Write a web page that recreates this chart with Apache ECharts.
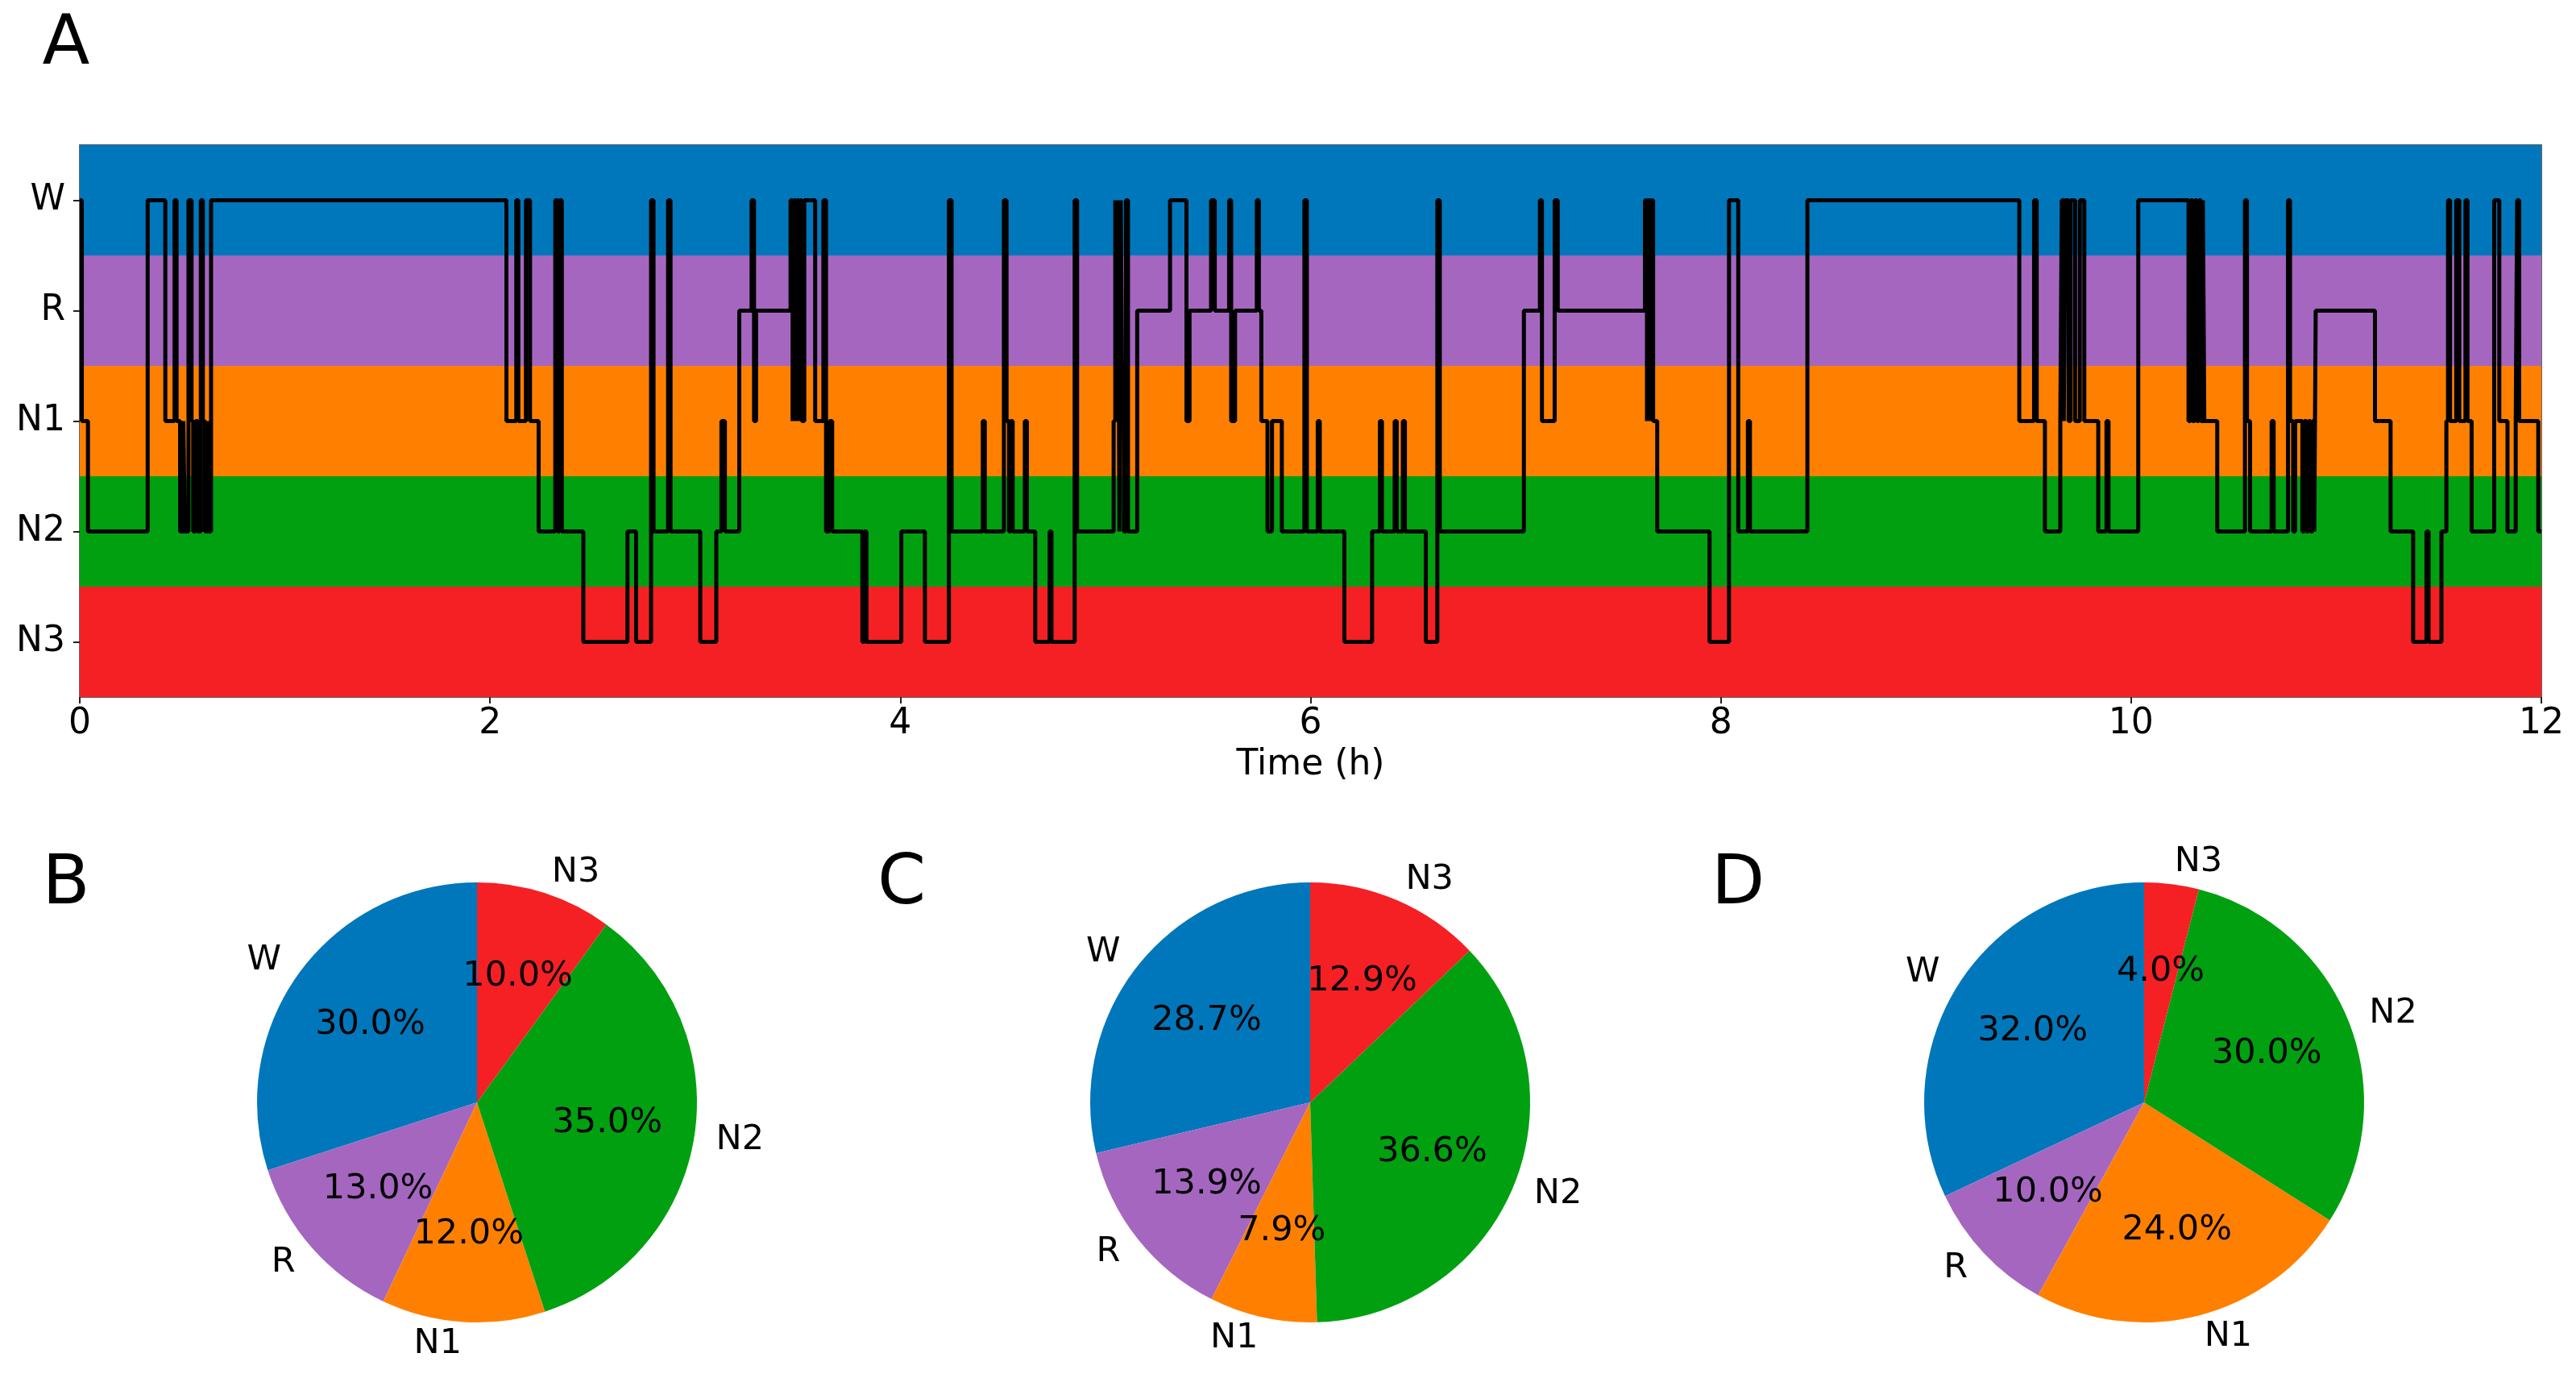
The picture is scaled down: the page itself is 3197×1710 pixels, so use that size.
<!DOCTYPE html>
<html><head><meta charset="utf-8">
<script src="https://cdn.jsdelivr.net/npm/echarts@6/dist/echarts.min.js"></script>
<style>html,body{margin:0;padding:0;background:#fff}#c{width:3197px;height:1710px}</style>
</head><body><div id="c"></div>
<script>
// ---------- data ----------
const stageLabels = ['N3', 'N2', 'N1', 'R', 'W']; // bottom -> top
const xTicks = [0, 2, 4, 6, 8, 10, 12];
const totalHours = 12;

const hypnoTimes = [
  0.000, 0.010, 0.040, 0.331, 0.417, 0.462, 0.472, 0.489, 0.505, 0.512, 0.530, 0.545, 0.553, 0.565, 0.575, 0.590, 0.600, 0.610, 0.625, 0.632, 0.640,
  2.080, 2.128, 2.138, 2.175, 2.195, 2.237, 2.318, 2.330, 2.338, 2.350, 2.455, 2.670, 2.712, 2.785, 2.797, 2.868, 2.880,
  3.025, 3.103, 3.128, 3.145, 3.215, 3.275, 3.287, 3.297, 3.465, 3.475, 3.482, 3.490, 3.497, 3.505, 3.512, 3.520, 3.532, 3.585, 3.625, 3.638, 3.655, 3.668, 3.815, 3.825, 3.835,
  4.005, 4.120, 4.237, 4.250, 4.402, 4.412, 4.505, 4.518, 4.530, 4.538, 4.548, 4.607, 4.617, 4.658, 4.728, 4.737, 4.850, 4.862,
  5.040, 5.048, 5.055, 5.062, 5.068, 5.075, 5.082, 5.090, 5.100, 5.110, 5.155, 5.315, 5.395, 5.410, 5.515, 5.533, 5.603, 5.613, 5.632, 5.738, 5.748, 5.760, 5.790, 5.812, 5.860, 5.970, 5.982,
  6.035, 6.045, 6.165, 6.300, 6.338, 6.348, 6.410, 6.420, 6.450, 6.460, 6.562, 6.618, 6.630,
  7.040, 7.118, 7.128, 7.190, 7.205, 7.630, 7.640, 7.647, 7.655, 7.662, 7.670, 7.690, 7.945,
  8.040, 8.085, 8.132, 8.142, 8.422,
  9.455, 9.527, 9.540, 9.580, 9.655, 9.662, 9.672, 9.678, 9.695, 9.705, 9.727, 9.750, 9.772, 9.840, 9.880, 9.890,
  10.035, 10.280, 10.290, 10.300, 10.310, 10.320, 10.330, 10.340, 10.350, 10.357, 10.420, 10.555, 10.565, 10.580, 10.685, 10.695, 10.765, 10.775, 10.790, 10.800,
  10.835, 10.845, 10.855, 10.865, 10.875, 10.885, 10.893, 10.900,
  11.189, 11.265, 11.375, 11.440, 11.450, 11.513, 11.537, 11.545, 11.555, 11.585, 11.600, 11.630, 11.640, 11.660, 11.770, 11.795, 11.835, 11.875, 11.882, 11.892, 11.985
];
const hypnoStages = [
  'W', 'N1', 'N2', 'W', 'N1', 'W', 'N1', 'N2', 'N1', 'N2', 'W', 'N1', 'N2', 'N1', 'N2', 'W', 'N1', 'N2', 'N1', 'N2', 'W',
  'N1', 'W', 'N1', 'W', 'N1', 'N2', 'W', 'N2', 'W', 'N2', 'N3', 'N2', 'N3', 'W', 'N2', 'W', 'N2',
  'N3', 'N2', 'N1', 'N2', 'R', 'W', 'N1', 'R', 'W', 'N1', 'W', 'N1', 'W', 'N1', 'W', 'N1', 'W', 'N1', 'W', 'N2', 'N1', 'N2', 'N3', 'N2', 'N3',
  'N2', 'N3', 'W', 'N2', 'N1', 'N2', 'W', 'N1', 'N2', 'N1', 'N2', 'N1', 'N2', 'N3', 'N2', 'N3', 'W', 'N2',
  'N1', 'W', 'N1', 'W', 'N2', 'W', 'N1', 'N2', 'W', 'N2', 'R', 'W', 'N1', 'R', 'W', 'R', 'W', 'N1', 'R', 'W', 'R', 'N1', 'N2', 'N1', 'N2', 'W', 'N2',
  'N1', 'N2', 'N3', 'N2', 'N1', 'N2', 'N1', 'N2', 'N1', 'N2', 'N3', 'W', 'N2',
  'R', 'W', 'N1', 'W', 'R', 'W', 'N1', 'W', 'N1', 'W', 'N1', 'N2', 'N3',
  'W', 'N2', 'N1', 'N2', 'W',
  'N1', 'W', 'N1', 'N2', 'N1', 'W', 'N1', 'W', 'N1', 'W', 'N1', 'W', 'N1', 'N2', 'N1', 'N2',
  'W', 'N1', 'W', 'N1', 'W', 'N1', 'W', 'N1', 'W', 'N1', 'N2', 'W', 'N1', 'N2', 'N1', 'N2', 'W', 'N1', 'N2', 'N1',
  'N2', 'N1', 'N2', 'N1', 'N2', 'N1', 'N2', 'R',
  'N1', 'N2', 'N3', 'N2', 'N3', 'N2', 'N1', 'W', 'N1', 'W', 'N1', 'W', 'N1', 'N2', 'W', 'N1', 'N2', 'N1', 'W', 'N1', 'N2'
];

const pieCategories = ['W', 'R', 'N1', 'N2', 'N3'];
const pieB = [30.0, 13.0, 12.0, 35.0, 10.0];
const pieC = [28.7, 13.9, 7.9, 36.6, 12.9];
const pieD = [32.0, 10.0, 24.0, 30.0, 4.0];
const panelLetters = ['A', 'B', 'C', 'D'];

// ---------- styles / layout ----------
const FONT = 'DejaVu Sans';
const stageColors = { W: '#0077BB', R: '#A566C0', N1: '#FF8000', N2: '#00A010', N3: '#F52024' };
const PIE_R = 273;
const pieCenters = [[592, 1368], [1626, 1368], [2661, 1368]];
const letterPos = [[82, 57], [82, 1099], [1119, 1099], [2157, 1099]];

const lineData = hypnoTimes.map((t, i) => [t, stageLabels.indexOf(hypnoStages[i])]);
lineData.push([totalHours, lineData[lineData.length - 1][1]]);

const bands = stageLabels.map((s, i) => [
  { yAxis: i - 0.5, itemStyle: { color: stageColors[s], opacity: 1 } },
  { yAxis: i + 0.5 }
]);

function pieSeries(values, center) {
  const data = pieCategories.map((n, i) => ({ name: n, value: values[i], itemStyle: { color: stageColors[n] } }));
  return [
    {
      type: 'pie', center: center, radius: PIE_R, startAngle: 90, clockwise: false,
      avoidLabelOverlap: false, animation: false, emphasis: { disabled: true },
      itemStyle: { borderWidth: 0 },
      data: data,
      label: { show: true, position: 'outside', formatter: '{b}', fontSize: 43, fontFamily: FONT, color: '#000', distanceToLabelLine: 0 },
      labelLine: { show: false, length: PIE_R * 0.1, length2: 0 }
    },
    {
      type: 'pie', center: center, radius: PIE_R * 1.2 - 6, startAngle: 90, clockwise: false,
      avoidLabelOverlap: false, animation: false, silent: true, emphasis: { disabled: true },
      data: pieCategories.map((n, i) => ({ name: n, value: values[i], itemStyle: { color: 'rgba(0,0,0,0)', borderWidth: 0 } })),
      label: { show: true, position: 'inside', formatter: p => p.value.toFixed(1) + '%', fontSize: 43, fontFamily: FONT, color: '#000' },
      labelLine: { show: false }
    }
  ];
}

const chart = echarts.init(document.getElementById('c'), null, { renderer: 'canvas' });
const axisLineStyle = { color: '#666', width: 2 };
chart.setOption({
  backgroundColor: '#fff',
  animation: false,
  textStyle: { fontFamily: FONT },
  grid: { left: 99, top: 180, width: 3055, height: 685, containLabel: false },
  xAxis: [
    {
      type: 'value', min: 0, max: totalHours, interval: 2,
      axisLine: { show: true, onZero: false, lineStyle: axisLineStyle },
      axisTick: { show: true, length: 8, lineStyle: { color: '#222', width: 2 } },
      axisLabel: { fontSize: 44, color: '#000', margin: 12, fontFamily: FONT, customValues: xTicks },
      splitLine: { show: false },
      name: 'Time (h)', nameLocation: 'middle', nameGap: 63,
      nameTextStyle: { fontSize: 44, color: '#000', fontFamily: FONT }
    },
    {
      type: 'value', position: 'top', min: 0, max: totalHours,
      axisLine: { show: true, onZero: false, lineStyle: axisLineStyle },
      axisTick: { show: false }, axisLabel: { show: false }, splitLine: { show: false }
    }
  ],
  yAxis: [
    {
      type: 'value', min: -0.5, max: 4.5,
      axisLine: { show: true, onZero: false, lineStyle: axisLineStyle },
      axisTick: { show: true, length: 8, customValues: [0, 1, 2, 3, 4], lineStyle: { color: '#222', width: 2 } },
      axisLabel: { fontSize: 44, color: '#000', margin: 18, fontFamily: FONT, customValues: [0, 1, 2, 3, 4], formatter: v => stageLabels[Math.round(v)] },
      splitLine: { show: false }
    },
    {
      type: 'value', position: 'right', min: -0.5, max: 4.5,
      axisLine: { show: true, onZero: false, lineStyle: axisLineStyle },
      axisTick: { show: false }, axisLabel: { show: false }, splitLine: { show: false }
    }
  ],
  series: [
    {
      type: 'line', step: 'end', data: lineData, showSymbol: false, symbol: 'none',
      lineStyle: { color: '#000', width: 5 }, z: 5, silent: true,
      markArea: { silent: true, z: 1, data: bands }
    },
    ...pieSeries(pieB, pieCenters[0]),
    ...pieSeries(pieC, pieCenters[1]),
    ...pieSeries(pieD, pieCenters[2])
  ],
  graphic: panelLetters.map((l, i) => ({
    type: 'text', x: letterPos[i][0], y: letterPos[i][1],
    style: { text: l, fontSize: 86, fontFamily: FONT, fill: '#000', align: 'center', verticalAlign: 'middle' }
  }))
});
</script></body></html>
